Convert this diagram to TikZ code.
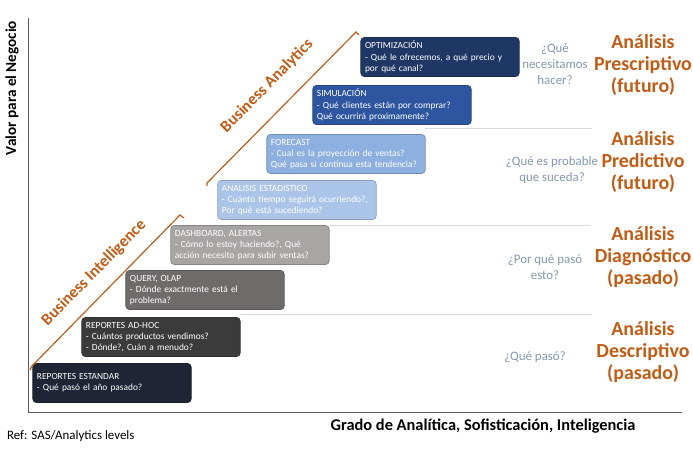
\documentclass[tikz,border=0pt]{standalone}
\usepackage{fontspec}
\setmainfont{Carlito}
\usetikzlibrary{positioning}
\definecolor{naranja}{HTML}{C55A11}
\definecolor{pregunta}{HTML}{8497B0}
\tikzset{
  caja/.style={draw=#1!80!black, fill=#1, rounded corners=3pt, line width=0.6pt,
    minimum width=4.75cm, minimum height=1.17cm, align=left, text width=4.5cm,
    font=\fontsize{8}{9.6}\selectfont, inner xsep=3pt, inner ysep=2pt},
  cajaf/.style={caja=#1, text=white},
  analisis/.style={text=naranja, font=\fontsize{17}{19}\selectfont\bfseries, align=center},
  pregunta/.style={text=pregunta, font=\fontsize{11}{13.5}\selectfont, align=center},
  separa/.style={draw=gray!30, line width=0.8pt},
  corchete/.style={draw=naranja, line width=1pt},
  etiqueta/.style={text=naranja, rotate=45.5, font=\fontsize{14}{16}\selectfont\bfseries},
}
\definecolor{c1}{HTML}{1F2535}
\definecolor{c2}{HTML}{3B3B3B}
\definecolor{c3}{HTML}{6E6B6B}
\definecolor{c4}{HTML}{A8A5A5}
\definecolor{c5}{HTML}{ABC5E9}
\definecolor{c6}{HTML}{8EB0E0}
\definecolor{c7}{HTML}{2E55A0}
\definecolor{c8}{HTML}{1F3764}
\begin{document}
\begin{tikzpicture}[x=0.03cm, y=-0.03cm]
    \useasboundingbox (0,0) rectangle (693,449);

    % ejes
    \coordinate (O) at (28,412);
    \coordinate (Ytop) at (28,18);
    \coordinate (Xend) at (682,412);
    \draw[line width=0.8pt, gray!70!black] (Ytop) -- (O) -- (Xend);
    \node[rotate=90, font=\fontsize{13}{15}\selectfont\bfseries] (ylab) at (12,88) {Valor para el Negocio};
    \node[font=\fontsize{14}{16}\selectfont\bfseries] (xlab) at (483,426) {Grado de Analítica, Sofisticación, Inteligencia};
    \node[font=\fontsize{11}{13}\selectfont, anchor=west] (ref) at (3,436) {Ref: SAS/Analytics levels};

    % separadores
    \draw[separa] (425,128) -- (592,128);
    \draw[separa] (330,225) -- (590,225);
    \draw[separa] (240,314) -- (592,314);

    % cajas
    \node[cajaf=c1] (estandar) at (112,383) {REPORTES ESTANDAR\\- Qué pasó el año pasado?};
    \node[cajaf=c2] (adhoc) at (161,337) {REPORTES AD-HOC\\- Cuántos productos vendimos?\\- Dónde?, Cuán a menudo?};
    \node[cajaf=c3] (query) at (205,290) {QUERY, OLAP\\- Dónde exactmente está el\\problema?};
    \node[cajaf=c4] (dashboard) at (250,245) {DASHBOARD, ALERTAS\\- Cómo lo estoy haciendo?, Qué\\acción necesito para subir ventas?};
    \node[cajaf=c5] (estadistico) at (297,200) {ANALISIS ESTADISTICO\\- Cuánto tiempo seguirá ocurriendo?,\\Por qué está sucediendo?};
    \node[cajaf=c6] (forecast) at (346,154) {FORECAST\\- Cual es la proyección de ventas?\\Qué pasa si continua esta tendencia?};
    \node[cajaf=c7] (simulacion) at (392,105) {SIMULACIÓN\\- Qué clientes están por comprar?\\Qué ocurrirá proximamente?};
    \node[cajaf=c8] (optimizacion) at (440,57) {OPTIMIZACIÓN\\- Qué le ofrecemos, a qué precio y\\por qué canal?};

    % corchetes
    \draw[corchete] (30,370) -- (32,366) -- (180,215) -- (184,218);
    \node[etiqueta] (bi) at (94,273) {Business Intelligence};
    \draw[corchete] (207,186) -- (207,183) -- (356,32) -- (359,35);
    \node[etiqueta] (ba) at (267,86) {Business Analytics};

    % preguntas y tipos de analisis
    \node[pregunta] (q1) at (555,64) {¿Qué\\necesitamos\\hacer?};
    \node[pregunta] (q2) at (552,170) {¿Qué es probable\\que suceda?};
    \node[pregunta] (q3) at (545,267) {¿Por qué pasó\\esto?};
    \node[pregunta] (q4) at (535,357) {¿Qué pasó?};
    \node[analisis] (a1) at (643,65) {Análisis\\Prescriptivo\\(futuro)};
    \node[analisis] (a2) at (643,162) {Análisis\\Predictivo\\(futuro)};
    \node[analisis] (a3) at (643,257) {Análisis\\Diagnóstico\\(pasado)};
    \node[analisis] (a4) at (643,352) {Análisis\\Descriptivo\\(pasado)};
\end{tikzpicture}
\end{document}
